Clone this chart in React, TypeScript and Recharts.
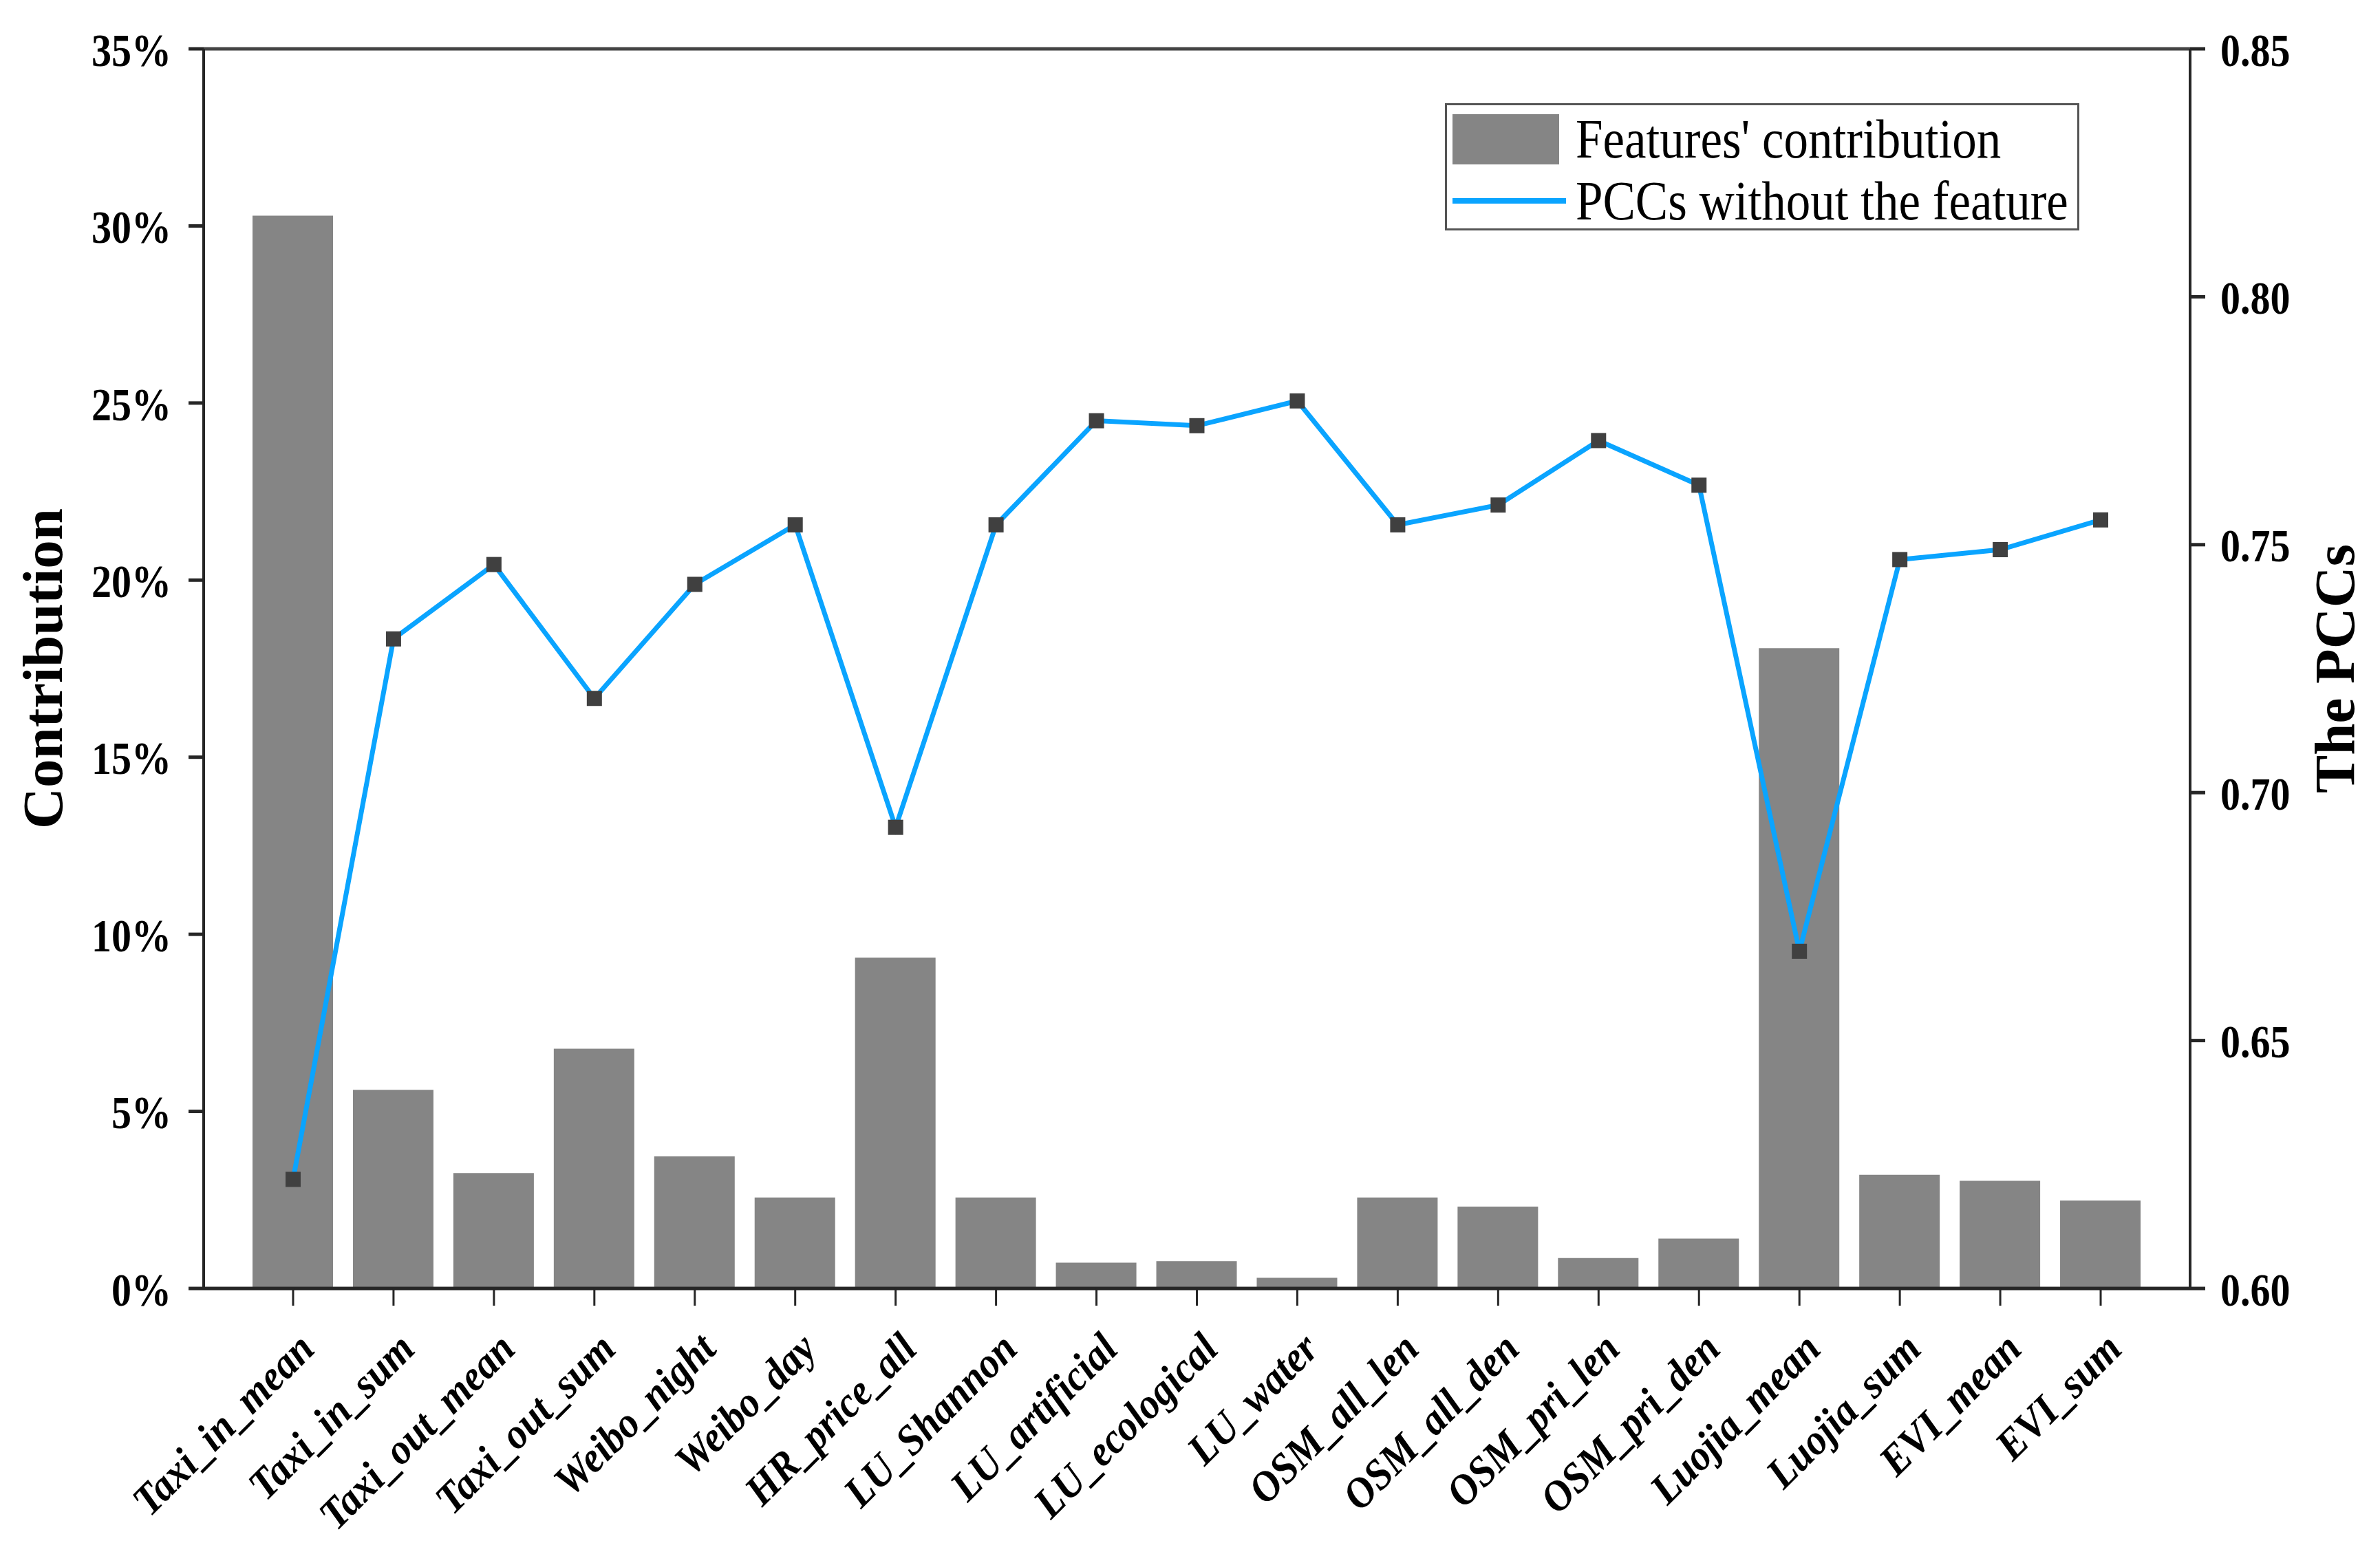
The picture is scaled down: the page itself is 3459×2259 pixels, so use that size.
import { ComposedChart, Bar, Line, XAxis, YAxis, Legend, ReferenceLine } from 'recharts';

const FEATURES = [
  'Taxi_in_mean', 'Taxi_in_sum', 'Taxi_out_mean', 'Taxi_out_sum', 'Weibo_night', 'Weibo_day',
  'HR_price_all', 'LU_Shannon', 'LU_artificial', 'LU_ecological', 'LU_water', 'OSM_all_len',
  'OSM_all_den', 'OSM_pri_len', 'OSM_pri_den', 'Luojia_mean', 'Luojia_sum', 'EVI_mean', 'EVI_sum',
];
const CONTRIBUTION = [30.29, 5.61, 3.26, 6.77, 3.73, 2.57, 9.34, 2.57, 0.73, 0.77, 0.3, 2.57, 2.31, 0.86, 1.41, 18.08, 3.21, 3.04, 2.48];
const PCCS = [0.622, 0.731, 0.746, 0.719, 0.742, 0.754, 0.693, 0.754, 0.775, 0.774, 0.779, 0.754, 0.758, 0.771, 0.762, 0.668, 0.747, 0.749, 0.755];
const LEFT_TICKS = [0, 5, 10, 15, 20, 25, 30, 35];
const RIGHT_TICKS = [0.6, 0.65, 0.7, 0.75, 0.8, 0.85];

const SERIF = '"Liberation Serif", "Times New Roman", serif';
const BAR_COLOR = '#858585';
const LINE_COLOR = '#0AA4FF';
const AXIS_COLOR = '#262626';

const data = FEATURES.map((name, i) => ({ name, contribution: CONTRIBUTION[i], pcc: PCCS[i] }));

// the reference glyphs are a little taller than plain Times, so stretch them a bit
function ValueTick({ x, y, payload, textAnchor, tickFormatter }: any) {
  return (
    <g transform={`translate(${x},${y}) scale(1,1.18)`}>
      <text
        textAnchor={textAnchor}
        dy="0.36em"
        fontFamily={SERIF}
        fontSize={58}
        fontWeight="bold"
        fill="#000"
      >
        {tickFormatter ? tickFormatter(payload.value) : payload.value}
      </text>
    </g>
  );
}

function FeatureTick({ x, y, payload }: any) {
  return (
    <g transform={`translate(${x + 34},${y + 64})`}>
      <text
        textAnchor="end"
        transform="rotate(-45) scale(1,1.08)"
        fontFamily={SERIF}
        fontSize={58}
        fontWeight="bold"
        fontStyle="italic"
        fill="#000"
      >
        {payload.value}
      </text>
    </g>
  );
}

function SquareDot({ cx, cy, index }: any) {
  return <rect key={`dot-${index}`} x={cx - 11} y={cy - 11} width={22} height={22} fill="#404040" />;
}

function AxisTitle(text: string, dx: number) {
  return ({ viewBox }: any) => {
    const x = viewBox.x + dx;
    const y = viewBox.y + viewBox.height / 2;
    return (
      <text
        x={x}
        y={y}
        transform={`rotate(-90 ${x} ${y})`}
        textAnchor="middle"
        dominantBaseline="central"
        fontFamily={SERIF}
        fontSize={83}
        fontWeight="bold"
        fill="#000"
      >
        {text}
      </text>
    );
  };
}

function LegendBox() {
  const row = { display: 'flex', alignItems: 'center', height: 90 };
  const label = { display: 'inline-block', transform: 'scaleY(1.12)' };
  return (
    <div
      style={{
        width: 922,
        height: 185,
        boxSizing: 'border-box',
        border: '3px solid #555',
        background: '#fff',
        padding: '4px 0 0 8px',
        fontFamily: SERIF,
        fontSize: 71,
        color: '#000',
      }}
    >
      <div style={row}>
        <span style={{ display: 'inline-block', width: 155, height: 73, background: BAR_COLOR, marginRight: 24 }} />
        <span style={label}>Features' contribution</span>
      </div>
      <div style={row}>
        <span style={{ display: 'inline-block', width: 165, height: 8, background: LINE_COLOR, marginRight: 14 }} />
        <span style={label}>PCCs without the feature</span>
      </div>
    </div>
  );
}

export default function App() {
  return (
    <div style={{ position: 'absolute', left: 0, top: 0, background: '#fff' }}>
      <ComposedChart width={3459} height={2259} data={data} margin={{ top: 71, right: 0, bottom: 0, left: 0 }}>
        <XAxis
          dataKey="name"
          interval={0}
          padding={{ left: 57, right: 57 }}
          height={386}
          tickSize={25}
          tick={<FeatureTick />}
          axisLine={{ stroke: AXIS_COLOR, strokeWidth: 5 }}
          tickLine={{ stroke: AXIS_COLOR, strokeWidth: 3 }}
        />
        <YAxis
          yAxisId="left"
          domain={[0, 35]}
          ticks={LEFT_TICKS}
          width={296}
          tickSize={22}
          tickMargin={25}
          tickFormatter={(v: number) => `${v}%`}
          tick={<ValueTick />}
          axisLine={{ stroke: AXIS_COLOR, strokeWidth: 4 }}
          tickLine={{ stroke: AXIS_COLOR, strokeWidth: 5 }}
          label={{ content: AxisTitle('Contribution', 62) }}
        />
        <YAxis
          yAxisId="right"
          orientation="right"
          domain={[0.6, 0.85]}
          ticks={RIGHT_TICKS}
          width={276}
          tickSize={22}
          tickMargin={22}
          tickFormatter={(v: number) => v.toFixed(2)}
          tick={<ValueTick />}
          axisLine={{ stroke: AXIS_COLOR, strokeWidth: 4 }}
          tickLine={{ stroke: AXIS_COLOR, strokeWidth: 5 }}
          label={{ content: AxisTitle('The PCCs', 210) }}
        />
        <ReferenceLine yAxisId="left" y={35} stroke="#444" strokeWidth={5} />
        <Legend
          layout="horizontal"
          verticalAlign="middle"
          align="center"
          content={<LegendBox />}
          wrapperStyle={{ left: 2100, top: 150, width: 922, height: 185 }}
        />
        <Bar yAxisId="left" dataKey="contribution" fill={BAR_COLOR} barSize={117} isAnimationActive={false} />
        <Line
          yAxisId="right"
          dataKey="pcc"
          type="linear"
          stroke={LINE_COLOR}
          strokeWidth={7}
          dot={<SquareDot />}
          activeDot={false}
          isAnimationActive={false}
        />
      </ComposedChart>
    </div>
  );
}
